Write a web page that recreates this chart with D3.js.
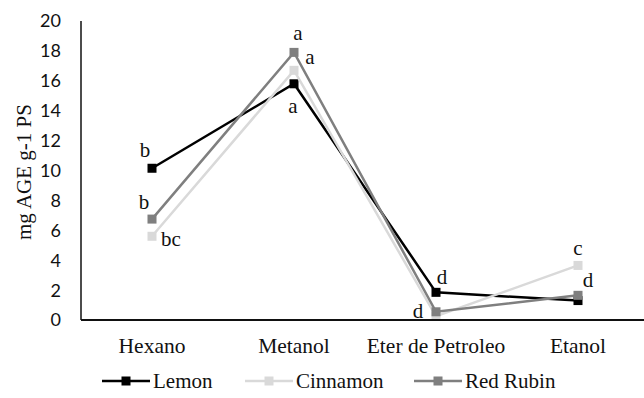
<!DOCTYPE html>
<html>
<head>
<meta charset="utf-8">
<script src="https://cdn.jsdelivr.net/npm/d3@7"></script>
<style>
  body { margin: 0; background: #fff; }
  svg { display: block; }
</style>
</head>
<body>
<div id="chart"></div>
<script>
// chart data
const solvents = ["Hexano", "Metanol", "Eter de Petroleo", "Etanol"];
const seriesNames = ["Lemon", "Cinnamon", "Red Rubin"];
const lemonValues = [10.15, 15.8, 1.85, 1.3];
const cinnamonValues = [5.6, 16.7, 0.25, 3.65];
const redRubinValues = [6.75, 17.9, 0.55, 1.65];
const yTicks = [0, 2, 4, 6, 8, 10, 12, 14, 16, 18, 20];

// significance letters: [series index, category index, letter, dx, dy]
const letters = [
    [0, 0, "b", -7, -19], [2, 0, "b", -8, -17], [1, 0, "bc", 19, 2],
    [2, 1, "a", 4, -20], [1, 1, "a", 16, -14], [0, 1, "a", -1, 22],
    [0, 2, "d", 6, -16], [2, 2, "d", -18, -1],
    [1, 3, "c", 0, -18], [2, 3, "d", 10, -16]
];

const width = 644, height = 398;
const margin = { top: 21, bottom: 78, left: 81 };
const colours = ["#000000", "#d9d9d9", "#7f7f7f"];
const allValues = [lemonValues, cinnamonValues, redRubinValues];
const serif = "'Liberation Serif', 'Times New Roman', serif";

const svg = d3.select("#chart").append("svg")
    .attr("width", width)
    .attr("height", height);

// plot area runs a bit past the right edge in the original crop
const x = d3.scaleBand()
    .domain(solvents)
    .range([margin.left, 649]);

const y = d3.scaleLinear()
    .domain([0, 20])
    .range([height - margin.bottom, margin.top]);

const cx = d => x(d) + x.bandwidth() / 2;

// y tick labels (no tick marks)
svg.append("g")
    .selectAll("text")
    .data(yTicks)
    .join("text")
    .attr("x", 61)
    .attr("y", d => y(d))
    .attr("dy", "0.36em")
    .attr("text-anchor", "end")
    .style("font-family", "Lato, 'Open Sans', sans-serif")
    .style("font-size", "18px")
    .style("fill", "#111")
    .text(d => d);

svg.append("line")
    .attr("x1", margin.left).attr("x2", margin.left)
    .attr("y1", y(20)).attr("y2", y(0))
    .attr("stroke", "#111").attr("stroke-width", 1.5);

// category labels
svg.append("g")
    .selectAll("text")
    .data(solvents)
    .join("text")
    .attr("x", d => cx(d))
    .attr("y", 353)
    .attr("text-anchor", "middle")
    .style("font-family", serif)
    .style("font-size", "21.5px")
    .style("fill", "#111")
    .text(d => d);

// y axis title
svg.append("text")
    .attr("transform", "translate(31," + 172 + ") rotate(-90)")
    .attr("text-anchor", "middle")
    .style("font-family", serif)
    .style("font-size", "21px")
    .style("fill", "#111")
    .text("mg AGE g-1 PS");

const line = d3.line()
    .x((d, i) => cx(solvents[i]))
    .y(d => y(d));

// series lines and markers
allValues.forEach((vals, s) => {
    svg.append("path")
        .datum(vals)
        .attr("d", line)
        .attr("fill", "none")
        .attr("stroke", colours[s])
        .attr("stroke-width", 2.5);

    svg.append("g")
        .selectAll("rect")
        .data(vals)
        .join("rect")
        .attr("x", (d, i) => cx(solvents[i]) - 4.5)
        .attr("y", d => y(d) - 4.5)
        .attr("width", 9)
        .attr("height", 9)
        .attr("fill", colours[s]);
});

svg.append("line")
    .attr("x1", margin.left).attr("x2", width)
    .attr("y1", y(0)).attr("y2", y(0))
    .attr("stroke", "#111").attr("stroke-width", 2);

// letters
svg.append("g")
    .selectAll("text")
    .data(letters)
    .join("text")
    .attr("x", d => cx(solvents[d[1]]) + d[3])
    .attr("y", d => y(allValues[d[0]][d[1]]) + d[4])
    .attr("dy", "0.35em")
    .attr("text-anchor", "middle")
    .style("font-family", serif)
    .style("font-size", "21px")
    .style("fill", "#111")
    .text(d => d[2]);

// legend
const legendX = [102, 245, 414];
const legend = svg.append("g")
    .selectAll("g")
    .data(seriesNames)
    .join("g")
    .attr("transform", (d, i) => "translate(" + legendX[i] + ",381)");

legend.append("line")
    .attr("x1", 0).attr("x2", 48)
    .attr("stroke", (d, i) => colours[i])
    .attr("stroke-width", 2.5);

legend.append("rect")
    .attr("x", 19.5).attr("y", -4.5)
    .attr("width", 9).attr("height", 9)
    .attr("fill", (d, i) => colours[i]);

legend.append("text")
    .attr("x", 51)
    .attr("dy", "0.35em")
    .style("font-family", serif)
    .style("font-size", "21px")
    .style("fill", "#111")
    .text(d => d);
</script>
</body>
</html>
